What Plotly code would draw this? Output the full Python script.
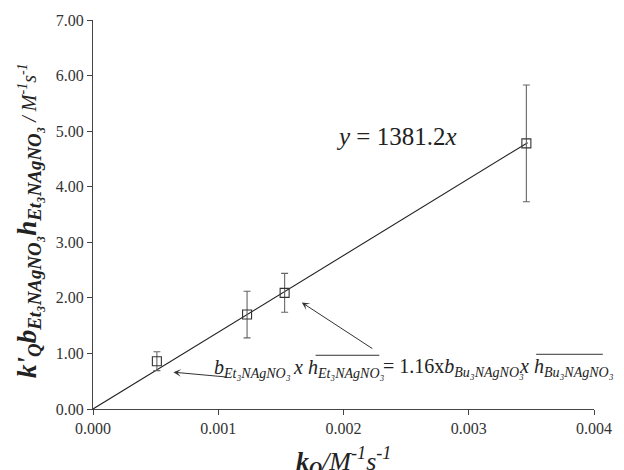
import plotly.graph_objects as go

# Data
k_q = [0.00051, 0.00123, 0.00153, 0.00346]
y_val = [0.86, 1.70, 2.09, 4.78]
y_err = [0.17, 0.42, 0.35, 1.05]
slope = 1381.2
fit_x = [0.0, 0.00347]
fit_y = [slope * v for v in fit_x]

x_ticks = [0.000, 0.001, 0.002, 0.003, 0.004]
y_ticks = [0.0, 1.0, 2.0, 3.0, 4.0, 5.0, 6.0, 7.0]

W, H = 624, 470
L, R, T, B = 93, 20, 18, 61
pw, ph = W - L - R, H - T - B

def px(p):
    return (p - L) / pw

def py(p):
    return (H - B - p) / ph

FONT = "Liberation Serif"
INK = "#222"

fig = go.Figure()
fig.add_trace(go.Scatter(x=fit_x, y=fit_y, mode="lines",
                         line=dict(color=INK, width=1.1), showlegend=False))
fig.add_trace(go.Scatter(x=k_q, y=y_val, mode="markers",
                         marker=dict(symbol="square-open", size=9, color="#333",
                                     line=dict(width=1.1)),
                         error_y=dict(type="data", array=y_err, color="#666",
                                      thickness=1.1, width=3.5),
                         showlegend=False))

sub3 = "\u2083"
et = f"Et{sub3}NAgNO{sub3}"
bu = f"Bu{sub3}NAgNO{sub3}"

fig.update_layout(
    width=W, height=H,
    margin=dict(l=L, r=R, t=T, b=B),
    paper_bgcolor="white", plot_bgcolor="white",
    font=dict(family=FONT, color=INK),
    xaxis=dict(range=[0, 0.004], tickvals=x_ticks,
               ticktext=[f"{v:.3f}" for v in x_ticks],
               showgrid=False, zeroline=False, showline=True, linecolor="#444",
               linewidth=1, ticks="outside", ticklen=5, tickcolor="#444",
               tickfont=dict(size=16, family=FONT, color="#333")),
    yaxis=dict(range=[0, 7], tickvals=y_ticks,
               ticktext=[f"{v:.2f}" for v in y_ticks],
               showgrid=False, zeroline=False, showline=True, linecolor="#444",
               linewidth=1, ticks="outside", ticklen=5, tickcolor="#444",
               tickfont=dict(size=16, family=FONT, color="#333")),
)

def ann(text, x, y, size, xanchor="left", yanchor="middle", angle=0):
    fig.add_annotation(x=px(x), y=py(y), xref="paper", yref="paper",
                       xanchor=xanchor, yanchor=yanchor, textangle=angle,
                       text=text, showarrow=False,
                       font=dict(size=size, family=FONT, color=INK))

# axis titles
ytitle = (f"<b><i>k'<sub>Q</sub>b<sub>{et}</sub>h<sub>{et}</sub></i></b>"
          f"<i><span style='font-size:20px'> / M<sup>-1</sup>s<sup>-1</sup></span></i>")
ann(ytitle, 27, 380, 27, xanchor="center", yanchor="bottom", angle=-90)
xtitle = "<b><i>k<sub>Q</sub></i></b><i>/M<sup>-1</sup>s<sup>-1</sup></i>"
ann(xtitle, 349, 461, 26, xanchor="center")

# fit equation
ann("<i>y</i> = 1381.2<i>x</i>", 403, 135, 25, xanchor="center")

# relation text pieces
ann(f"<i>b<sub>{et}</sub></i>", 214, 368, 20)
ann(f"<i>x h<sub>{et}</sub></i>", 295, 368, 20)
ann(f"= 1.16x<i>b<sub>{bu}</sub></i>", 387, 367, 20)
ann(f"<i>x h<sub>{bu}</sub></i>", 525, 367, 20)

# overlines
for a, b_, yy in [(320, 385, 355), (545, 613, 354)]:
    fig.add_shape(type="line", xref="paper", yref="paper",
                  x0=px(a), x1=px(b_), y0=py(yy), y1=py(yy),
                  line=dict(color="#333", width=1))

# arrows
for (tx, ty), (hx, hy) in [((230, 377), (175, 372)), ((378, 349), (306, 302))]:
    fig.add_annotation(x=px(hx), y=py(hy), ax=tx - hx, ay=ty - hy,
                       xref="paper", yref="paper", axref="pixel", ayref="pixel",
                       text="", showarrow=True, arrowhead=3, arrowsize=1.3,
                       arrowwidth=1, arrowcolor="#333")

fig.write_html("out.html")
